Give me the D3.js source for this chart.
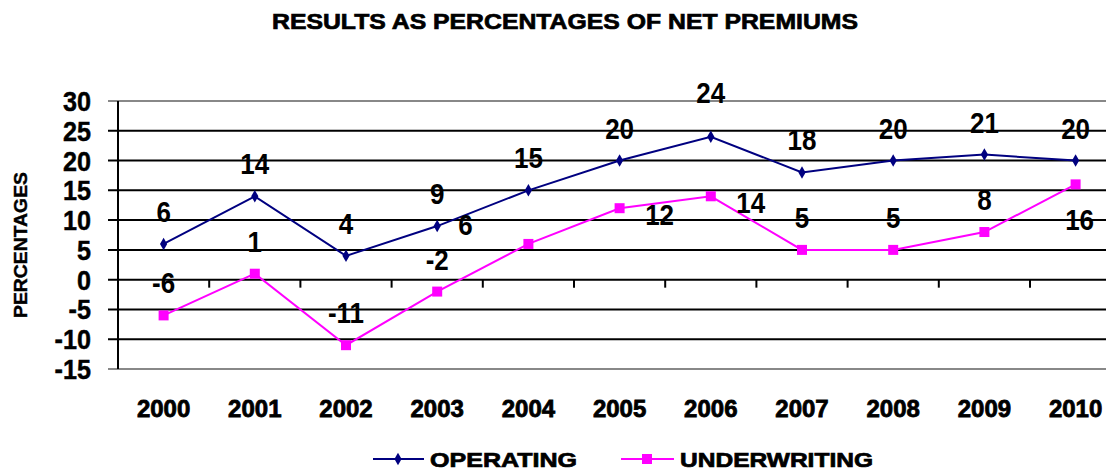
<!DOCTYPE html>
<html>
<head>
<meta charset="utf-8">
<script src="https://cdn.jsdelivr.net/npm/d3@7"></script>
<style>
  body { margin: 0; background: #fff; }
  svg { display: block; font-family: "Liberation Sans", Arial, sans-serif; font-weight: bold; }
  .heavy { stroke: #000; stroke-width: 0.7px; }
</style>
</head>
<body>
<div id="chart"></div>
<script>

const width = 1106, height = 475;

// DATA
const years = ["2000", "2001", "2002", "2003", "2004", "2005", "2006", "2007", "2008", "2009", "2010"];
const operating = [6, 14, 4, 9, 15, 20, 24, 18, 20, 21, 20];
const underwriting = [-6, 1, -11, -2, 6, 12, 14, 5, 5, 8, 16];

// where each data label sits relative to its point
const opLabelPos = ["above", "above", "above", "above", "above", "above", "high", "above", "above", "above", "above"];
const uwLabelPos = ["above", "above", "above", "above", "left", "right", "right", "above", "above", "above", "below"];

const labelOffset = {
	"above": [0, -22],
	"high": [0, -34],
	"left": [-63, -9],
	"right": [40, 17],
	"below": [4, 46]
};

const plot = { left: 118, top: 101, bottom: 369 };
const step = 91.2;

let svg = d3.select("#chart")
	.append("svg")
	.attr("width", width)
	.attr("height", height);

const x = d3.scaleBand()
	.domain(years)
	.range([plot.left, plot.left + step * years.length]);

const y = d3.scaleLinear()
	.domain([-15, 30])
	.range([plot.bottom, plot.top]);

const cx = d => x(d) + x.bandwidth() / 2;

// TITLE
svg.append("text")
	.attr("class", "heavy")
	.attr("x", 272)
	.attr("y", 29)
	.attr("textLength", 586)
	.attr("lengthAdjust", "spacingAndGlyphs")
	.style("font-size", "22px")
	.text("RESULTS AS PERCENTAGES OF NET PREMIUMS");

// Y AXIS TITLE
svg.append("text")
	.attr("class", "heavy")
	.attr("transform", "translate(27,245) rotate(-90)")
	.attr("text-anchor", "middle")
	.attr("textLength", 146)
	.attr("lengthAdjust", "spacingAndGlyphs")
	.style("font-size", "18px")
	.style("stroke-width", "0.4px")
	.text("PERCENTAGES");

// GRIDLINES
let grid = svg.append("g");
const yTicks = y.ticks(9);

grid.selectAll("line")
	.data(yTicks)
	.enter()
	.append("line")
	.attr("x1", plot.left - 10)
	.attr("x2", width)
	.attr("y1", d => y(d))
	.attr("y2", d => y(d))
	.style("stroke", d => (d == 30 || d == -15) ? "#888888" : "#000000")
	.style("stroke-width", 2);

// Y TICK LABELS
svg.append("g").selectAll("text")
	.data(yTicks)
	.enter()
	.append("text")
	.attr("class", "heavy")
	.attr("transform", d => "translate(91," + (y(d) + 10) + ") scale(1.05,1.12)")
	.attr("text-anchor", "end")
	.style("font-size", "24px")
	.style("stroke-width", "0.4px")
	.text(d => d);

// Y AXIS LINE
svg.append("line")
	.attr("x1", plot.left).attr("x2", plot.left)
	.attr("y1", plot.top).attr("y2", plot.bottom)
	.style("stroke", "#000")
	.style("stroke-width", 2);

// X AXIS (at zero) WITH TICKS BETWEEN CATEGORIES
let xAxis = svg.append("g")
	.attr("transform", "translate(0," + y(0) + ")")
	.call(d3.axisBottom(x).tickSizeInner(8).tickSizeOuter(0).tickFormat(""));

xAxis.select(".domain").remove();
xAxis.selectAll(".tick")
	.attr("transform", d => "translate(" + x(d) + ",0)")
	.filter(d => d == years[0]).remove();
xAxis.selectAll(".tick line")
	.style("stroke", "#000")
	.style("stroke-width", 2);

// X LABELS
svg.append("g").selectAll("text")
	.data(years)
	.enter()
	.append("text")
	.attr("class", "heavy")
	.attr("x", d => cx(d))
	.attr("y", 417)
	.attr("text-anchor", "middle")
	.style("font-size", "24px")
	.style("stroke-width", "0.8px")
	.text(d => d);

// LINES
const line = d3.line()
	.x((d, i) => cx(years[i]))
	.y(d => y(d));

svg.append("path")
	.datum(operating)
	.attr("d", line)
	.style("fill", "none")
	.style("stroke", "#000080")
	.style("stroke-width", 2);

svg.append("path")
	.datum(underwriting)
	.attr("d", line)
	.style("fill", "none")
	.style("stroke", "#ff00ff")
	.style("stroke-width", 2);

const diamond = d3.symbol().type(d3.symbolDiamond).size(45);

svg.append("g").selectAll("path")
	.data(operating)
	.enter()
	.append("path")
	.attr("d", diamond)
	.attr("transform", (d, i) => "translate(" + cx(years[i]) + "," + y(d) + ")")
	.style("fill", "#000080");

svg.append("g").selectAll("rect")
	.data(underwriting)
	.enter()
	.append("rect")
	.attr("x", (d, i) => cx(years[i]) - 5)
	.attr("y", d => y(d) - 5)
	.attr("width", 10)
	.attr("height", 10)
	.style("fill", "#ff00ff");

// DATA LABELS
function drawLabels(values, positions) {
	svg.append("g").selectAll("text")
		.data(values)
		.enter()
		.append("text")
		.attr("transform", (d, i) => {
			let off = labelOffset[positions[i]];
			return "translate(" + (cx(years[i]) + off[0]) + "," + (y(d) + off[1]) + ") scale(1,1.15)";
		})
		.attr("text-anchor", "middle")
		.style("font-size", "26px")
		.text(d => d);
}

drawLabels(operating, opLabelPos);
drawLabels(underwriting, uwLabelPos);

// LEGEND
let legend = svg.append("g");

legend.append("line")
	.attr("x1", 373).attr("x2", 424).attr("y1", 459).attr("y2", 459)
	.style("stroke", "#000080").style("stroke-width", 2);
legend.append("path")
	.attr("d", diamond)
	.attr("transform", "translate(398,459)")
	.style("fill", "#000080");
legend.append("text")
	.attr("class", "heavy")
	.attr("x", 430).attr("y", 467)
	.attr("textLength", 147)
	.attr("lengthAdjust", "spacingAndGlyphs")
	.style("font-size", "20px")
	.text("OPERATING");

legend.append("line")
	.attr("x1", 621).attr("x2", 674).attr("y1", 459).attr("y2", 459)
	.style("stroke", "#ff00ff").style("stroke-width", 2);
legend.append("rect")
	.attr("x", 642).attr("y", 454).attr("width", 10).attr("height", 10)
	.style("fill", "#ff00ff");
legend.append("text")
	.attr("class", "heavy")
	.attr("x", 680).attr("y", 467)
	.attr("textLength", 193)
	.attr("lengthAdjust", "spacingAndGlyphs")
	.style("font-size", "20px")
	.text("UNDERWRITING");

</script>
</body>
</html>
